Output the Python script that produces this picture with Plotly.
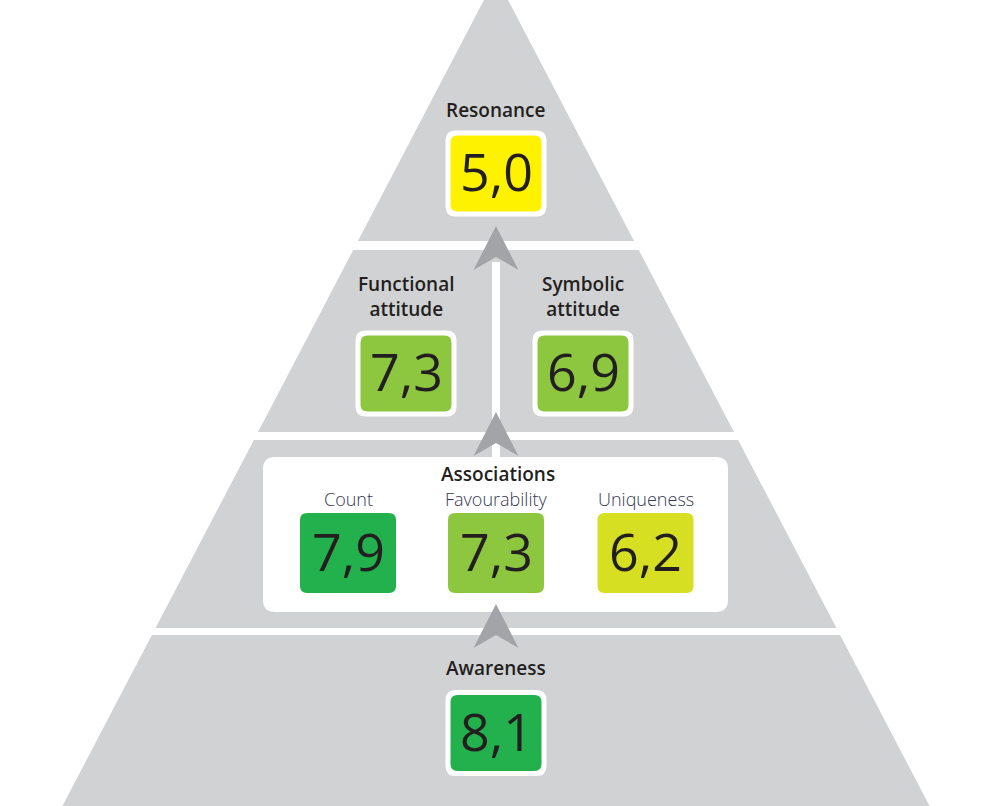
#!/usr/bin/env python
# -*- coding: utf-8 -*-

"""
Brand pyramid: scores per level, drawn with plotly shapes and annotations
"""

import plotly.graph_objects as go

# Data
block_labels = ["Resonance", "Functional<br>attitude", "Symbolic<br>attitude", "Awareness"]
block_scores = [5.0, 7.3, 6.9, 8.1]
assoc_title = "Associations"
assoc_labels = ["Count", "Favourability", "Uniqueness"]
assoc_scores = [7.9, 7.3, 6.2]

W, H = 987, 806
GREY = "#D1D2D4"
ARROW = "#A2A4A7"
TEXT = "#231F20"
SUB = "#353750"
FONT = "Open Sans"


def score_color(v):
    """Couleur de la case selon le score"""
    if v < 6:
        return "#FFF200"
    if v < 6.5:
        return "#D7DF23"
    if v < 7.5:
        return "#8DC63F"
    return "#23B14D"


def fmt(v):
    return f"{v:.1f}".replace(".", ",")


def rounded(x0, y0, x1, y1, r):
    return (f"M{x0+r},{y0} L{x1-r},{y0} Q{x1},{y0} {x1},{y0+r} "
            f"L{x1},{y1-r} Q{x1},{y1} {x1-r},{y1} L{x0+r},{y1} "
            f"Q{x0},{y1} {x0},{y1-r} L{x0},{y0+r} Q{x0},{y0} {x0+r},{y0} Z")


shapes = []


def path(p, color):
    shapes.append(dict(type="path", path=p, xref="x", yref="y",
                       fillcolor=color, line=dict(width=0), layer="above"))


def rect(x0, y0, x1, y1, color):
    shapes.append(dict(type="rect", x0=x0, y0=y0, x1=x1, y1=y1, xref="x", yref="y",
                       fillcolor=color, line=dict(width=0), layer="above"))


def arrow(cx, ty):
    path(f"M{cx},{ty} L{cx+22.5},{ty+44} L{cx},{ty+31} L{cx-22.5},{ty+44} Z", ARROW)


# Pyramide
apex_x, apex_y, slope = 496, -23, 0.523
bot = 840
path(f"M{apex_x},{apex_y} L{apex_x + slope*(bot-apex_y)},{bot} "
     f"L{apex_x - slope*(bot-apex_y)},{bot} Z", GREY)

# Séparations blanches
for y0, y1 in [(241, 250), (432, 440), (628, 635)]:
    rect(0, y0, W, y1, "white")
rect(492, 262, 500, 460, "white")

# Cadre des associations
path(rounded(263, 457, 728, 612, 12), "white")

# Flèches
arrow(496, 226)
arrow(496, 412)
arrow(496, 604)

annotations = []


def label(x, y, text, size=19, color=TEXT, weight=600):
    annotations.append(dict(x=x, y=y, xref="x", yref="y", text=text, showarrow=False,
                            xanchor="center", yanchor="middle",
                            font=dict(family=FONT, size=size, color=color, weight=weight)))


def score_box(cx, cy, v, w=91, h=76, border=True):
    if border:
        path(rounded(cx - w/2 - 5, cy - h/2 - 5, cx + w/2 + 5, cy + h/2 + 5, 10), "white")
    path(rounded(cx - w/2, cy - h/2, cx + w/2, cy + h/2, 7), score_color(v))
    label(cx, cy - 3, fmt(v), size=52, weight=400)


# Niveaux de la pyramide
block_pos = [(496, 173.5, 110), (406, 373.5, 296), (583, 373.5, 296), (496, 733, 668)]
for (cx, cy, ly), name, v in zip(block_pos, block_labels, block_scores):
    score_box(cx, cy, v)
    label(cx, ly, name)

# Associations
label(498, 474, assoc_title)
for cx, name, v in zip([348, 496, 645.5], assoc_labels, assoc_scores):
    score_box(cx, 553, v, w=96, h=80, border=False)
    label(cx, 499, name, size=18, color=SUB, weight=300)

fig = go.Figure()
fig.add_trace(go.Scatter(x=[0, W], y=[0, H], mode="markers",
                         marker=dict(opacity=0), hoverinfo="skip", showlegend=False))
fig.update_layout(
    width=W, height=H,
    margin=dict(l=0, r=0, t=0, b=0),
    paper_bgcolor="white", plot_bgcolor="white",
    xaxis=dict(range=[0, W], visible=False, fixedrange=True),
    yaxis=dict(range=[H, 0], visible=False, fixedrange=True),
    shapes=shapes, annotations=annotations,
    showlegend=False,
)

# la page a une marge de 8px par défaut
fig.write_html("out.html", config=dict(displayModeBar=False),
               post_script="document.body.style.margin='0';")
